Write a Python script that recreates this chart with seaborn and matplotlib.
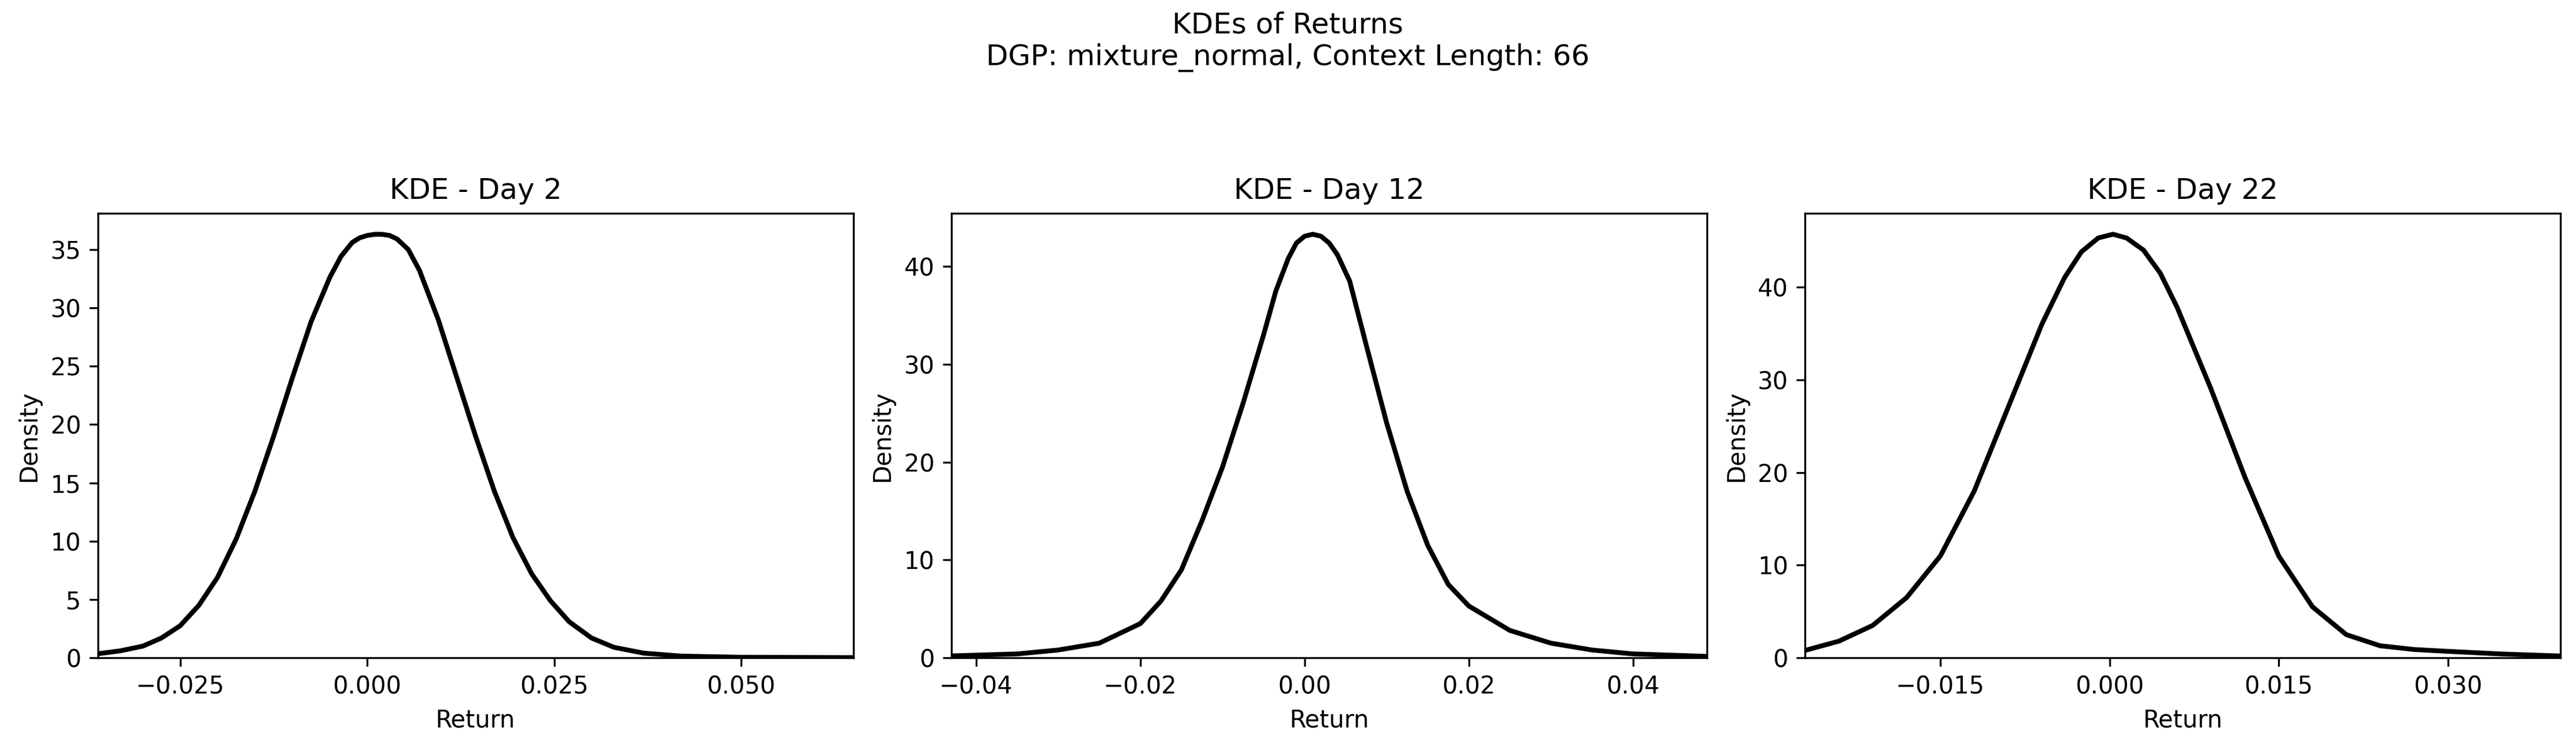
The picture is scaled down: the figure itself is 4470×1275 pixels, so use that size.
import matplotlib
matplotlib.use("Agg")
import matplotlib.pyplot as plt
import seaborn as sns
import pandas as pd

x_day2 = [-0.036,-0.033,-0.030,-0.0275,-0.025,-0.0225,-0.020,-0.0175,-0.015,-0.0125,-0.010,-0.0075,-0.005,-0.0035,-0.002,-0.001,0.000,0.001,0.002,0.003,0.004,0.0055,0.007,0.0095,0.012,0.0145,0.017,0.0195,0.022,0.0245,0.027,0.030,0.033,0.037,0.042,0.050,0.065]
y_day2 = [0.35,0.6,1.0,1.7,2.75,4.5,6.9,10.2,14.3,19.0,24.0,28.8,32.6,34.4,35.6,36.0,36.2,36.3,36.3,36.2,35.9,35.0,33.2,29.0,24.0,19.0,14.3,10.3,7.2,4.9,3.1,1.7,0.9,0.4,0.15,0.05,0.02]

x_day12 = [-0.043,-0.035,-0.030,-0.025,-0.020,-0.0175,-0.015,-0.0125,-0.010,-0.0075,-0.005,-0.0035,-0.002,-0.001,0.000,0.001,0.002,0.003,0.004,0.0055,0.0075,0.010,0.0125,0.015,0.0175,0.020,0.025,0.030,0.035,0.040,0.049]
y_day12 = [0.2,0.4,0.8,1.5,3.5,5.8,9.0,14.0,19.5,26.0,33.0,37.5,40.8,42.4,43.1,43.3,43.1,42.4,41.2,38.5,32.0,24.0,17.0,11.5,7.5,5.3,2.8,1.5,0.8,0.4,0.15]

x_day22 = [-0.027,-0.024,-0.021,-0.018,-0.015,-0.012,-0.009,-0.006,-0.004,-0.0025,-0.001,0.0003,0.0015,0.003,0.0045,0.006,0.009,0.012,0.015,0.018,0.021,0.024,0.027,0.030,0.035,0.040]
y_day22 = [0.8,1.8,3.5,6.5,11.0,18.0,27.0,36.0,41.0,43.8,45.3,45.7,45.3,44.0,41.5,37.8,29.0,19.5,11.0,5.5,2.5,1.3,0.9,0.7,0.4,0.2]

panels = [("KDE - Day 2", x_day2, y_day2, [-0.025, 0.0, 0.025, 0.050]),
          ("KDE - Day 12", x_day12, y_day12, [-0.04, -0.02, 0.0, 0.02, 0.04]),
          ("KDE - Day 22", x_day22, y_day22, [-0.015, 0.0, 0.015, 0.030])]

fig, axes = plt.subplots(1, 3, figsize=(14.9, 4.25), dpi=300)
for ax, (title, xs, ys, ticks) in zip(axes, panels):
    df = pd.DataFrame({"Return": xs, "Density": ys})
    sns.lineplot(data=df, x="Return", y="Density", ax=ax, color="black", linewidth=2)
    ax.set_xlim(min(xs), max(xs))
    ax.set_ylim(bottom=0)
    ax.set_xticks(ticks)
    ax.set_title(title, fontsize=12)
fig.suptitle("KDEs of Returns\nDGP: mixture_normal, Context Length: 66", fontsize=12, y=0.985)
fig.subplots_adjust(left=0.038, right=0.994, bottom=0.105, top=0.71, wspace=0.13)
fig.savefig("out.png", dpi=300)
